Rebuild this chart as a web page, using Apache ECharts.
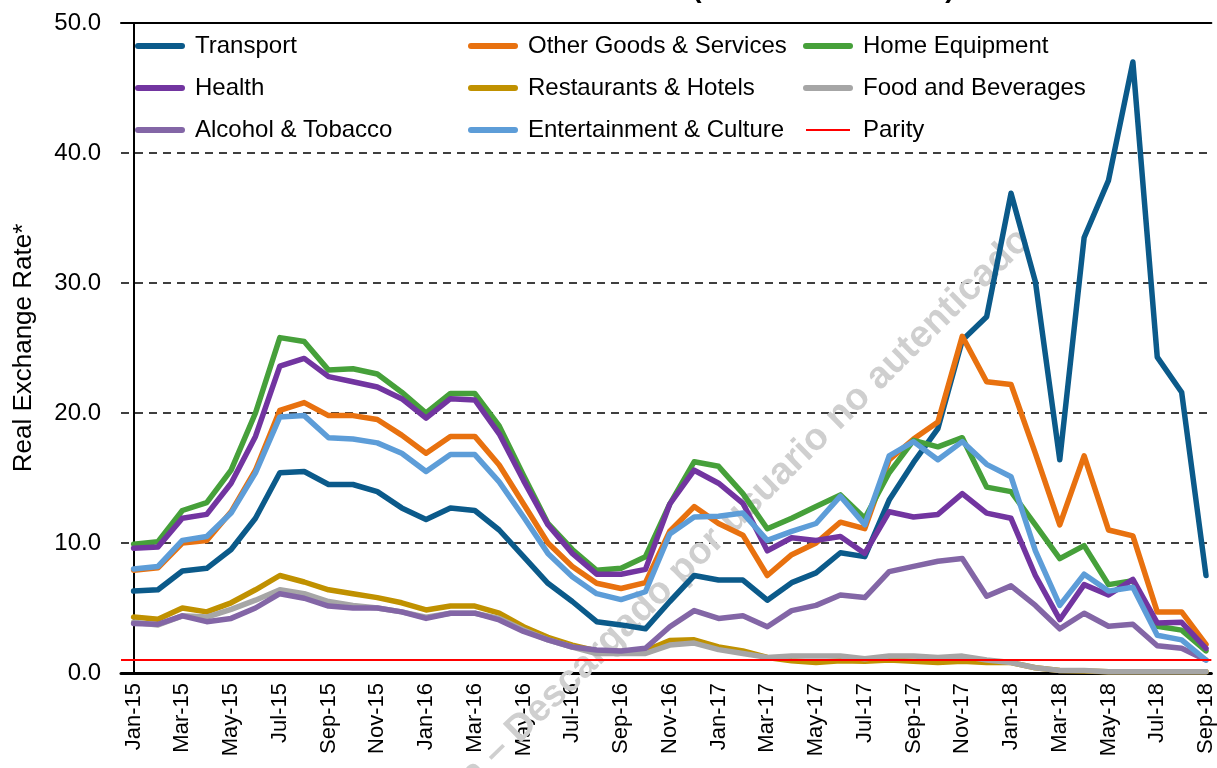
<!DOCTYPE html>
<html>
<head>
<meta charset="utf-8">
<script src="https://cdn.jsdelivr.net/npm/echarts@6/dist/echarts.min.js"></script>
<style>
html,body{margin:0;padding:0;background:#fff;}
#chart{width:1217px;height:768px;}
</style>
</head>
<body>
<div id="chart"></div>
<script>
const months = ['Jan-15','Feb-15','Mar-15','Apr-15','May-15','Jun-15','Jul-15','Aug-15','Sep-15','Oct-15','Nov-15','Dec-15',
  'Jan-16','Feb-16','Mar-16','Apr-16','May-16','Jun-16','Jul-16','Aug-16','Sep-16','Oct-16','Nov-16','Dec-16',
  'Jan-17','Feb-17','Mar-17','Apr-17','May-17','Jun-17','Jul-17','Aug-17','Sep-17','Oct-17','Nov-17','Dec-17',
  'Jan-18','Feb-18','Mar-18','Apr-18','May-18','Jun-18','Jul-18','Aug-18','Sep-18'];
const xTickLabels = ['Jan-15','Mar-15','May-15','Jul-15','Sep-15','Nov-15','Jan-16','Mar-16','May-16','Jul-16','Sep-16','Nov-16',
  'Jan-17','Mar-17','May-17','Jul-17','Sep-17','Nov-17','Jan-18','Mar-18','May-18','Jul-18','Sep-18'];
const yTicks = [0, 10, 20, 30, 40, 50];

const transport = [6.3,6.4,7.85,8.05,9.5,11.9,15.4,15.5,14.5,14.5,13.95,12.7,11.8,12.7,12.5,11.0,8.95,6.9,5.5,3.95,3.7,3.4,5.5,7.5,7.15,7.15,5.6,6.95,7.7,9.25,8.95,13.3,16.2,18.8,25.6,27.4,36.9,30.1,16.4,33.5,37.9,47.0,24.3,21.6,7.5];
const otherGoods = [7.9,8.1,10.0,10.2,12.4,15.6,20.2,20.8,19.8,19.8,19.5,18.3,16.9,18.2,18.2,16.0,13.0,10.0,8.2,6.9,6.5,6.95,10.9,12.8,11.5,10.6,7.5,9.1,10.0,11.6,11.1,16.4,18.0,19.3,25.9,22.4,22.2,16.9,11.4,16.7,11.0,10.55,4.7,4.7,2.2];
const homeEquipment = [9.9,10.1,12.5,13.1,15.6,20.0,25.8,25.5,23.3,23.4,23.0,21.6,20.0,21.5,21.5,19.0,15.2,11.5,9.5,7.9,8.05,8.95,13.0,16.25,15.9,13.8,11.1,11.9,12.8,13.7,11.9,15.4,17.9,17.4,18.1,14.3,13.95,11.4,8.8,9.8,6.8,7.1,3.6,3.3,1.7];
const health = [9.6,9.7,11.9,12.2,14.6,18.2,23.6,24.2,22.8,22.4,22.0,21.1,19.6,21.1,21.0,18.4,14.8,11.4,9.2,7.6,7.6,7.97,13.0,15.6,14.6,13.05,9.4,10.4,10.2,10.5,9.2,12.4,12.0,12.2,13.8,12.3,11.9,7.5,4.1,6.8,6.0,7.2,3.85,3.9,1.9];
const restaurants = [4.3,4.13,5.0,4.7,5.4,6.4,7.5,7.0,6.4,6.1,5.8,5.4,4.85,5.15,5.15,4.6,3.56,2.75,2.15,1.7,1.65,1.7,2.5,2.55,2.0,1.7,1.2,0.95,0.8,0.95,0.9,1.0,0.9,0.8,0.9,0.8,0.8,0.4,0.2,0.15,0.1,0.1,0.1,0.1,0.1];
const food = [3.9,3.7,4.4,4.3,4.9,5.6,6.4,6.1,5.5,5.2,5.0,4.7,4.3,4.6,4.6,4.2,3.3,2.55,2.0,1.5,1.5,1.5,2.15,2.3,1.8,1.5,1.2,1.3,1.3,1.3,1.1,1.3,1.3,1.2,1.3,1.0,0.8,0.4,0.2,0.2,0.1,0.1,0.1,0.1,0.1];
const alcohol = [3.8,3.75,4.4,3.95,4.2,5.0,6.1,5.75,5.15,5.0,5.0,4.7,4.2,4.6,4.6,4.08,3.2,2.55,2.0,1.77,1.7,1.9,3.56,4.8,4.2,4.4,3.56,4.8,5.2,6.0,5.8,7.8,8.2,8.6,8.8,5.9,6.7,5.2,3.4,4.6,3.6,3.75,2.1,1.9,1.0];
const entertainment = [8.0,8.2,10.2,10.5,12.3,15.4,19.7,19.8,18.1,18.0,17.7,16.9,15.5,16.8,16.8,14.7,12.0,9.2,7.4,6.1,5.65,6.25,10.7,12.0,12.05,12.3,10.2,10.9,11.5,13.6,11.4,16.7,17.8,16.4,17.8,16.05,15.1,9.4,5.2,7.6,6.3,6.6,2.9,2.55,1.0];
const parityLevel = 1;

const seriesDefs = [
  {name:'Transport', data: transport, color:'#0B5A8A'},
  {name:'Other Goods & Services', data: otherGoods, color:'#E8710F'},
  {name:'Home Equipment', data: homeEquipment, color:'#46A03A'},
  {name:'Health', data: health, color:'#7235A0'},
  {name:'Restaurants & Hotels', data: restaurants, color:'#C09100'},
  {name:'Food and Beverages', data: food, color:'#A6A6A6'},
  {name:'Alcohol & Tobacco', data: alcohol, color:'#8366A6'},
  {name:'Entertainment & Culture', data: entertainment, color:'#5D9DD8'}
];

const FONT = '"Liberation Sans", Arial, sans-serif';
const tickIdx = xTickLabels.map(l => months.indexOf(l));

const series = seriesDefs.map(s => ({
  name: s.name,
  type: 'line',
  data: s.data.map((v, i) => [i, v]),
  symbol: 'none',
  smooth: false,
  color: s.color,
  lineStyle: {width: 5.5, color: s.color, join: 'round', cap: 'round'},
  emphasis: {disabled: true},
  z: 3
}));
series.push({
  name: 'Parity',
  type: 'line',
  data: [],
  symbol: 'none',
  color: '#FF0000',
  lineStyle: {width: 2, color: '#FF0000'},
  markLine: {
    silent: true,
    symbol: ['none','none'],
    label: {show: false},
    lineStyle: {color: '#FF0000', width: 2, type: 'solid'},
    data: [{yAxis: parityLevel}]
  },
  z: 4
});

function legendCol(names, left) {
  return {
    orient: 'vertical',
    left: left,
    top: 34,
    padding: 0,
    itemWidth: 44,
    itemHeight: 24,
    itemGap: 18,
    selectedMode: false,
    data: names.map(n => ({
      name: n,
      lineStyle: {width: n === 'Parity' ? 2 : 6, cap: n === 'Parity' ? 'butt' : 'round'}
    })),
    itemStyle: {opacity: 0},
    textStyle: {fontFamily: FONT, fontSize: 24, color: '#000', padding: [0, 0, 0, 8]}
  };
}

const chart = echarts.init(document.getElementById('chart'), null, {renderer: 'canvas'});
chart.setOption({
  backgroundColor: '#fff',
  animation: false,
  grid: {left: 121, right: 5, top: 23, bottom: 95, containLabel: false},
  legend: [
    legendCol(['Transport','Health','Alcohol & Tobacco'], 135),
    legendCol(['Other Goods & Services','Restaurants & Hotels','Entertainment & Culture'], 468),
    legendCol(['Home Equipment','Food and Beverages','Parity'], 803)
  ],
  xAxis: [{
    type: 'value',
    min: -0.517,
    max: 44.22,
    splitLine: {show: false},
    axisTick: {show: false},
    axisLine: {show: true, onZero: false, lineStyle: {color: '#000', width: 3}},
    axisLabel: {
      customValues: tickIdx,
      formatter: v => months[Math.round(v)] || '',
      rotate: 90,
      margin: 10,
      fontFamily: FONT,
      fontSize: 22,
      color: '#000'
    }
  }, {
    type: 'value',
    position: 'top',
    min: -0.517,
    max: 44.22,
    splitLine: {show: false},
    axisTick: {show: false},
    axisLabel: {show: false},
    axisLine: {show: true, onZero: false, lineStyle: {color: '#000', width: 2}}
  }],
  yAxis: {
    type: 'value',
    min: yTicks[0],
    max: yTicks[yTicks.length - 1],
    interval: 10,
    name: 'Real Exchange Rate*',
    nameLocation: 'middle',
    nameRotate: 90,
    nameGap: 84,
    nameTextStyle: {fontFamily: FONT, fontSize: 26, color: '#000'},
    axisLine: {show: true, lineStyle: {color: '#000', width: 2}},
    axisTick: {show: false},
    axisLabel: {
      formatter: v => v.toFixed(1),
      fontFamily: FONT, fontSize: 24, color: '#000', margin: 20
    },
    splitLine: {show: true, lineStyle: {color: '#000', width: 1.5, type: [8, 6]}}
  },
  graphic: [
    {type: 'text', silent: true, x: 697, y: 3, z: 10,
     style: {text: '(', font: 'bold 28px ' + FONT, fill: '#000', align: 'center', verticalAlign: 'bottom'}},
    {type: 'text', silent: true, x: 950, y: 3, z: 10,
     style: {text: ')', font: 'bold 28px ' + FONT, fill: '#000', align: 'center', verticalAlign: 'bottom'}},
    {type: 'text', silent: true, x: 1038, y: 248, rotation: 0.775, z: 1,
     style: {text: 'a – Descargado por usuario no autenticado', font: 'bold 38px ' + FONT,
             fill: '#CFCFCF', align: 'right', verticalAlign: 'bottom'}}
  ],
  series: series
});
</script>
</body>
</html>
